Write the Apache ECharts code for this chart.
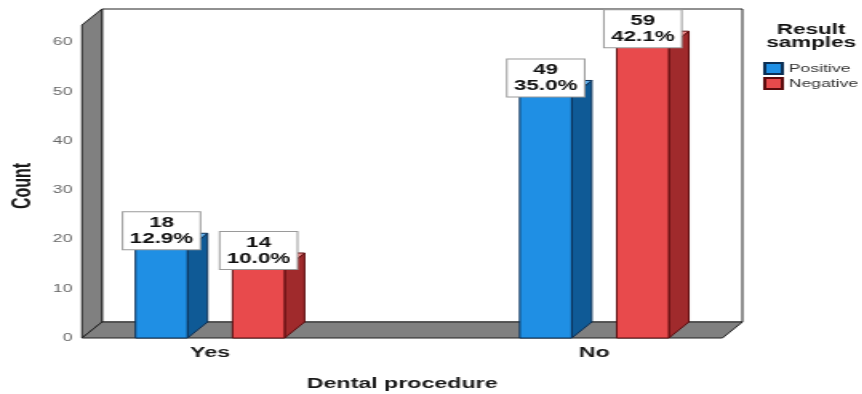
<!DOCTYPE html>
<html>
<head>
<meta charset="utf-8">
<script src="https://cdn.jsdelivr.net/npm/echarts@6/dist/echarts.min.js"></script>
<style>
  html, body { margin: 0; padding: 0; background: #fff; overflow: hidden; }
  /* the chart is laid out narrow and widened horizontally, SPSS export style */
  #chart { width: 538.75px; height: 394px; transform: scaleX(1.6); transform-origin: 0 0; }
</style>
</head>
<body>
<div id="chart"></div>
<script>
// ---- data ----
const categories = ['Yes', 'No'];
const seriesNames = ['Positive', 'Negative'];
const positiveCounts = [18, 49];
const negativeCounts = [14, 59];
const positivePct = [12.9, 35.0];
const negativePct = [10.0, 42.1];

// ---- layout ----
const slotPos = [1, 4];          // x position of each category group on the 0..5 axis
const xMax = 5;
const yMax = 63.5;
const barHalfGap = 0.379;        // group centre to bar centre, axis units
const barWidth = 0.406;          // bar width, axis units
const depthX = 12.5, depthY = 16; // 3D depth offset, px

const FONT = 'Arial, "Liberation Sans", sans-serif';

const palette = {
  Positive: { front: '#1f8fe4', side: '#0f5a96', top: '#63b2ef', edge: '#0b2f55' },
  Negative: { front: '#e84a4c', side: '#a02a2c', top: '#f08a8a', edge: '#5c0c0e' }
};

function barSeries(name, counts, pcts, offset) {
  const c = palette[name];
  return {
    name: name,
    type: 'custom',
    z: 3,
    itemStyle: { color: c.front, borderColor: c.edge, borderWidth: 1 },
    data: counts.map((v, i) => [slotPos[i], v, pcts[i]]),
    encode: { x: 0, y: 1 },
    renderItem: function (params, api) {
      const xc = api.value(0) + offset;
      const v = api.value(1);
      const pct = api.value(2);
      const w = api.size([barWidth, 0])[0];
      const topC = api.coord([xc, v]);
      const baseC = api.coord([xc, 0]);
      const x0 = topC[0] - w / 2, x1 = topC[0] + w / 2;
      const yt = topC[1], yb = baseC[1];
      const edge = { stroke: c.edge, lineWidth: 1 };
      return {
        type: 'group',
        children: [
          { type: 'polygon', shape: { points: [[x1, yt], [x1 + depthX, yt - depthY], [x1 + depthX, yb - depthY], [x1, yb]] },
            style: Object.assign({ fill: c.side }, edge) },
          { type: 'polygon', shape: { points: [[x0, yt], [x0 + depthX, yt - depthY], [x1 + depthX, yt - depthY], [x1, yt]] },
            style: Object.assign({ fill: c.top }, edge) },
          { type: 'rect', shape: { x: x0, y: yt, width: w, height: yb - yt },
            style: Object.assign({ fill: c.front }, edge) },
          { type: 'text', z2: 20,
            style: {
              text: v + '\n' + pct.toFixed(1) + '%',
              x: topC[0], y: yt,
              align: 'center', verticalAlign: 'bottom',
              font: 'bold 14px ' + FONT, fill: '#111', lineHeight: 16,
              backgroundColor: '#fff', borderColor: '#9a9a9a', borderWidth: 1,
              padding: [3, 4, 2, 4]
            } }
        ]
      };
    }
  };
}

// Floor, left wall and back wall of the 3D frame, placed from the axis extents
const frameSeries = {
  name: 'frame',
  type: 'custom',
  z: 1,
  silent: true,
  data: [[0, 0]],
  renderItem: function (params, api) {
    const bl = api.coord([0, 0]);
    const br = api.coord([xMax, 0]);
    const tl = api.coord([0, yMax]);
    const edge = { stroke: '#222', lineWidth: 1 };
    return {
      type: 'group',
      children: [
        { type: 'rect', shape: { x: bl[0] + depthX, y: tl[1] - depthY, width: br[0] - bl[0], height: bl[1] - tl[1] },
          style: Object.assign({ fill: '#fff' }, edge) },
        { type: 'polygon', shape: { points: [[tl[0], tl[1]], [tl[0] + depthX, tl[1] - depthY], [bl[0] + depthX, bl[1] - depthY], [bl[0], bl[1]]] },
          style: Object.assign({ fill: '#808080' }, edge) },
        { type: 'polygon', shape: { points: [[bl[0], bl[1]], [bl[0] + depthX, bl[1] - depthY], [br[0] + depthX, br[1] - depthY], [br[0], br[1]]] },
          style: Object.assign({ fill: '#808080' }, edge) }
      ]
    };
  }
};

const chart = echarts.init(document.getElementById('chart'), null, { renderer: 'canvas' });
chart.setOption({
  animation: false,
  backgroundColor: '#fff',
  textStyle: { fontFamily: FONT },
  grid: { left: 51.25, right: 87.5, top: 25, bottom: 56, outerBoundsMode: 'none', containLabel: false },
  xAxis: {
    type: 'value', min: 0, max: xMax, interval: 1,
    axisLine: { show: false }, axisTick: { show: false }, splitLine: { show: false },
    axisLabel: {
      margin: 7, color: '#1a1a1a', fontSize: 14.5, fontWeight: 'bold',
      formatter: v => { const i = slotPos.indexOf(v); return i >= 0 ? categories[i] : ''; }
    },
    name: 'Dental procedure', nameLocation: 'middle', nameGap: 38,
    nameTextStyle: { fontSize: 14.5, fontWeight: 'bold', color: '#1a1a1a' }
  },
  yAxis: {
    type: 'value', min: 0, max: yMax, interval: 10,
    axisLine: { show: false }, axisTick: { show: false }, splitLine: { show: false },
    axisLabel: { margin: 6, color: '#666', fontSize: 11, formatter: v => (v % 10 === 0 ? v : '') },
    name: 'Count', nameLocation: 'middle', nameGap: 28.5,
    nameTextStyle: { fontSize: 16, fontWeight: 'bold', color: '#1a1a1a', padding: [0, 9, 0, 0] }
  },
  legend: {
    data: seriesNames, orient: 'vertical', left: 477, top: 62, padding: 0,
    itemWidth: 11, itemHeight: 11, itemGap: 2,
    icon: 'rect',
    textStyle: { fontSize: 11, color: '#333', padding: [0, 0, 0, -1] }
  },
  graphic: [{
    type: 'text', x: 507, y: 24,
    style: { text: 'Result\nsamples', align: 'center', font: 'bold 14px ' + FONT, fill: '#111', lineHeight: 13 }
  }],
  series: [
    frameSeries,
    barSeries('Positive', positiveCounts, positivePct, -barHalfGap),
    barSeries('Negative', negativeCounts, negativePct, barHalfGap)
  ]
});
</script>
</body>
</html>
